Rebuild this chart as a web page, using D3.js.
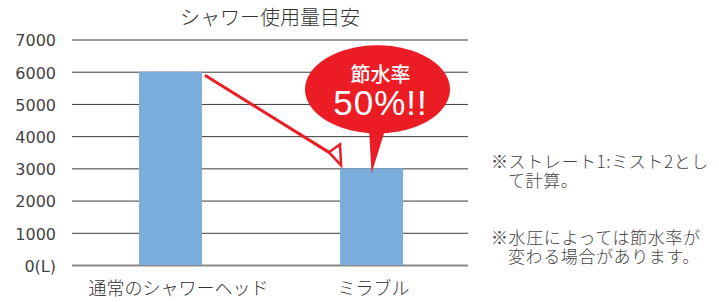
<!DOCTYPE html>
<html>
<head>
<meta charset="utf-8">
<script src="https://cdn.jsdelivr.net/npm/d3@7"></script>
<style>
  html, body { margin: 0; padding: 0; background: #fff; }
  svg { display: block; }
  .jp { font-family: "Noto Sans CJK JP", "Noto Sans", sans-serif; font-weight: 300; }
</style>
</head>
<body>
<svg id="chart" width="719" height="302"></svg>
<script>
// データ
const categories = ['通常のシャワーヘッド', 'ミラブル'];
const usage = [6000, 3000];
const yTicks = [0, 1000, 2000, 3000, 4000, 5000, 6000, 7000];
const title = 'シャワー使用量目安';
const badgeLines = ['節水率', '50%!!'];
const notes = [
  ['※ストレート1:ミスト2とし', 'て計算。'],
  ['※水圧によっては節水率が', '変わる場合があります。']
];

const svg = d3.select('#chart');
const red = '#ec1c24';

const plot = { left: 72, right: 468, top: 39.5, bottom: 265 };

const x = d3.scaleBand()
  .domain(categories)
  .range([70, 472])
  .paddingInner(0.687)
  .paddingOuter(0.3435);

const y = d3.scaleLinear()
  .domain([0, 7000])
  .range([plot.bottom, plot.top]);

// タイトル
svg.append('text')
  .attr('class', 'jp')
  .attr('x', 270)
  .attr('y', 25)
  .attr('text-anchor', 'middle')
  .attr('font-size', 20)
  .attr('fill', '#333')
  .text(title);

// 目盛り線
const yAxis = svg.append('g')
  .attr('transform', `translate(${plot.left},0)`)
  .call(d3.axisLeft(y)
    .tickValues(yTicks)
    .tickSize(-(plot.right - plot.left))
    .tickPadding(16)
    .tickFormat(d => (d === 0 ? '0(L)' : d)));

yAxis.select('.domain').remove();
yAxis.selectAll('.tick line')
  .attr('stroke', d => (d === 0 ? '#8a8a8a' : '#3a3a3a'))
  .attr('stroke-width', d => (d === 0 ? 2 : 1));
yAxis.selectAll('.tick text')
  .attr('font-family', '"DejaVu Sans", sans-serif')
  .attr('font-size', 16)
  .attr('fill', '#444')
  .attr('dy', '0.4em');

// 棒
svg.append('g')
  .selectAll('rect')
  .data(usage)
  .enter()
  .append('rect')
  .attr('x', (d, i) => x(categories[i]))
  .attr('y', d => y(d))
  .attr('width', x.bandwidth())
  .attr('height', d => y(0) - y(d))
  .attr('fill', '#7aacdc');

// カテゴリ名
svg.append('g')
  .selectAll('text')
  .data(categories)
  .enter()
  .append('text')
  .attr('class', 'jp')
  .attr('x', d => x(d) + x.bandwidth() / 2 + (d === categories[0] ? 8 : 2))
  .attr('y', 295)
  .attr('text-anchor', 'middle')
  .attr('font-size', 18)
  .attr('fill', '#333')
  .text(d => d);

// 矢印
const from = { x: x(categories[0]) + x.bandwidth() + 3, y: y(usage[0]) + 3.5 };
const tip = { x: x(categories[1]) + 1, y: y(usage[1]) - 3 };
const base = { x: tip.x - 12, y: tip.y - 13 };
svg.append('line')
  .attr('x1', from.x)
  .attr('y1', from.y)
  .attr('x2', base.x)
  .attr('y2', base.y)
  .attr('stroke', red)
  .attr('stroke-width', 3);
svg.append('path')
  .attr('d', `M${base.x},${base.y} L${tip.x - 1},${tip.y - 21} L${tip.x},${tip.y} Z`)
  .attr('fill', '#fff')
  .attr('stroke', red)
  .attr('stroke-width', 2.5)
  .attr('stroke-linejoin', 'miter');

// 吹き出し
const tail = { x: x(categories[1]) + x.bandwidth() / 2, y: y(usage[1]) + 5 };
const bubble = { cx: tail.x + 6, cy: y(usage[1]) - 79, rx: 72.5, ry: 44 };
const g = svg.append('g');
g.append('path')
  .attr('d', `M${tail.x - 3},${bubble.cy + 30} L${tail.x + 17},${bubble.cy + 30} L${tail.x},${tail.y} Z`)
  .attr('fill', red);
g.append('ellipse')
  .attr('cx', bubble.cx)
  .attr('cy', bubble.cy)
  .attr('rx', bubble.rx)
  .attr('ry', bubble.ry)
  .attr('fill', red);
g.append('text')
  .attr('class', 'jp')
  .attr('x', bubble.cx + 3)
  .attr('y', bubble.cy - 7)
  .attr('text-anchor', 'middle')
  .attr('font-size', 20)
  .style('font-weight', 500)
  .attr('fill', '#fff')
  .text(badgeLines[0]);
g.append('text')
  .attr('x', bubble.cx + 3)
  .attr('y', bubble.cy + 26)
  .attr('text-anchor', 'middle')
  .attr('font-family', '"Liberation Sans", Arial, sans-serif')
  .attr('font-size', 35)
  .attr('letter-spacing', 1)
  .attr('fill', '#fff')
  .text(badgeLines[1]);

// 注記
const noteTop = [168, 244];
notes.forEach((lines, i) => {
  lines.forEach((line, j) => {
    svg.append('text')
      .attr('class', 'jp')
      .attr('x', j === 0 ? 491 : 508)
      .attr('y', noteTop[i] + j * 19)
      .attr('font-size', 17)
      .attr('letter-spacing', 0.6)
      .attr('fill', '#444')
      .text(line);
  });
});
</script>
</body>
</html>
